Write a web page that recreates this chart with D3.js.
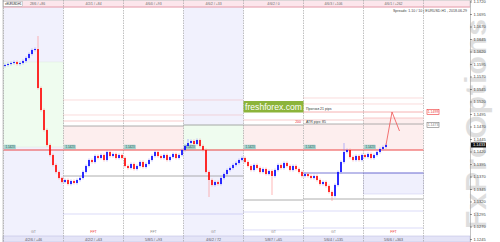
<!DOCTYPE html>
<html lang="en">
<head>
<meta charset="utf-8">
<title>EURUSD,H1</title>
<script src="https://cdn.jsdelivr.net/npm/d3@7"></script>
<style>
html, body { margin: 0; padding: 0; background: #fff; }
svg { display: block; font-family: "Liberation Sans", Arial, sans-serif; }
.axis text { font-size: 4px; fill: #444; }
.axis line { stroke: #333; }
.axis path { stroke: #999; }
</style>
</head>
<body>
<svg width="500" height="242"></svg>
<script>
// hourly closes (first open below)
var firstOpen = 1.1591;
var closes = [
  1.1593, 1.1595, 1.1597, 1.1599, 1.1595, 1.1597, 1.1601, 1.1607, 1.1615, 1.1623,
  1.1625, 1.1547, 1.1503, 1.1463, 1.1433, 1.1413, 1.1393, 1.1379, 1.1367, 1.1359,
  1.1363, 1.1355, 1.1361, 1.1357, 1.1363, 1.1367, 1.1379, 1.1391, 1.1403, 1.1399,
  1.1411, 1.1407, 1.1413, 1.1403, 1.1419, 1.1411, 1.1415, 1.1407, 1.1413, 1.1407,
  1.1391, 1.1387, 1.1395, 1.1385, 1.1391, 1.1399, 1.1389, 1.1395, 1.1403, 1.1411,
  1.1419, 1.1411, 1.1407, 1.1413, 1.1403, 1.1409, 1.1415, 1.1407, 1.1413, 1.1423,
  1.1431, 1.1437, 1.1441, 1.1435, 1.1443, 1.1431, 1.1423, 1.1379, 1.1363, 1.1353,
  1.1359, 1.1355, 1.1367, 1.1375, 1.1383, 1.1387, 1.1393, 1.1397, 1.1403, 1.1407,
  1.1399, 1.1391, 1.1383, 1.1393, 1.1387, 1.1379, 1.1385, 1.1375, 1.1381, 1.1371,
  1.1383, 1.1393, 1.1387, 1.1397, 1.1391, 1.1383, 1.1391, 1.1385, 1.1379, 1.1371,
  1.1375, 1.1371, 1.1367, 1.1371, 1.1363, 1.1355, 1.1359, 1.1351, 1.1339, 1.1331,
  1.1353, 1.1379, 1.1399, 1.1419, 1.1423, 1.1409, 1.1403, 1.1411, 1.1403, 1.1413,
  1.1409, 1.1415, 1.1407, 1.1413, 1.1419, 1.1425, 1.1429, 1.1433
];
// candles whose shadows stick out further than the rest
var wickHigh = {11: 1.1651, 61: 1.1445, 113: 1.1437};
var wickLow = {68: 1.1329, 89: 1.1333, 109: 1.1321};

// forecast path (candle index, price)
var forecastIdx = [127, 129, 131.5];
var forecastPrice = [1.1433, 1.1499, 1.1461];

// day columns
var dayStart = [-0.5, 19.5, 39.5, 59.5, 79.5, 99.5, 119.5, 139.5];
var headerText = ["28/6 / +86", "4/2/1 / +84", "4/6/0 / +93", "4/6/2 / +33", "4/6/2 / 0", "4/6/3 / +106", "4/6/1 / +262"];
var footerText = ["4/2/6 / +46", "4/2/2 / +63", "5/8/5 / +93", "4/6/2 / 72", "5/8/7 / +65", "5/6/4 / +135", "5/6/6 / +363"];
var sessionTag = ["GT", "FFT", "FFT", "GT", "GT", "GT", "FFT"];
var sessionHot = [false, true, false, false, false, false, true];

// levels per day column (null = none)
var pivotLevel = [1.1423, 1.1423, 1.1423, 1.1423, 1.1423, 1.1423, 1.1423];
var upperGray = [null, 1.1471, 1.1471, 1.1473, 1.1473, 1.1475, 1.1475];
var upperDot1 = [null, 1.1523, 1.1523, 1.1523, 1.1517, 1.1527, 1.1527];
var upperDot2 = [null, 1.1493, 1.1493, 1.1493, 1.1503, 1.1515, 1.1515];
var upperDot3 = [null, null, null, null, null, 1.1499, 1.1499];
var upperPink = [null, 1.1481, 1.1481, null, 1.1483, 1.1483, 1.1487];
var lowerGray = [null, 1.1371, 1.1371, 1.1371, 1.1323, 1.1325, 1.1325];
var lowerBlue = [null, null, null, null, null, 1.1377, 1.1377];
var lowerDot1 = [null, 1.1295, 1.1295, 1.1295, 1.1299, 1.1301, 1.1301];
var lowerDot2 = [null, null, null, null, 1.1263, 1.1267, 1.1267];
var greenBox = [[0, 1.1599, 1.1429], [3, 1.1473, 1.1423]];
var lavenderCols = [0, 3];
var lavenderBox = [[6, 1.1377, 1.1335]];

var priceTicks = d3.range(0, 20).map(function(k) { return 1.1720 - k * 0.0025; });
var currentPrice = 1.1433;
var rightTags = [[1.1499, "1.1499", "#e33"], [1.1473, "1.1473", "#777"]];

var svg = d3.select("svg"),
    width = 500, height = 242,
    plotLeft = 3, plotRight = 470, plotTop = 7, plotBottom = 236;

var x = d3.scaleLinear().domain([0, 127]).range([5, 386]);
var y = d3.scaleLinear().domain([1.1723, 1.1239]).range([0, 242]);
var colX = function(c) { return c < dayStart.length ? x(dayStart[c]) : plotRight; };

// backgrounds
lavenderCols.forEach(function(c) {
  svg.append("rect").attr("x", colX(c)).attr("y", plotTop)
      .attr("width", colX(c + 1) - colX(c)).attr("height", plotBottom - plotTop)
      .attr("fill", "#f1f1fd");
});
greenBox.forEach(function(b) {
  svg.append("rect").attr("x", colX(b[0])).attr("y", y(b[1]))
      .attr("width", colX(b[0] + 1) - colX(b[0])).attr("height", y(b[2]) - y(b[1]))
      .attr("fill", "#effcef").attr("stroke", "#dfe9df").attr("stroke-width", 0.5);
});
upperGray.forEach(function(p, c) {
  if (p === null || c === 3) return;
  var top = upperPink[c] !== null && c === 6 ? upperPink[c] : p;
  svg.append("rect").attr("x", colX(c)).attr("y", y(top))
      .attr("width", colX(c + 1) - colX(c)).attr("height", y(pivotLevel[c]) - y(top))
      .attr("fill", "#fdeeee");
});
lavenderBox.forEach(function(b) {
  svg.append("rect").attr("x", colX(b[0])).attr("y", y(b[1]))
      .attr("width", colX(b[0] + 1) - colX(b[0])).attr("height", y(b[2]) - y(b[1]))
      .attr("fill", "#f0f0fd").attr("stroke", "#c9c9f0").attr("stroke-width", 0.5);
});

// watermark
svg.append("text")
    .attr("transform", "translate(486,229) rotate(-90)")
    .attr("font-size", 30).attr("font-weight", "bold")
    .attr("fill", "#dedede")
    .attr("textLength", 210)
    .text("FxProOptions");

// header and footer strips
svg.append("rect").attr("x", plotLeft).attr("y", 0.5).attr("width", plotRight - plotLeft).attr("height", 6.5)
    .attr("fill", "#fce6ec").attr("stroke", "#bbb").attr("stroke-width", 0.5);
svg.append("line").attr("x1", plotLeft).attr("x2", plotRight).attr("y1", 7).attr("y2", 7)
    .attr("stroke", "#f4a6b6").attr("stroke-width", 1);
svg.append("rect").attr("x", plotLeft).attr("y", plotBottom).attr("width", plotRight - plotLeft).attr("height", 6)
    .attr("fill", "#e4e4f7").attr("stroke", "#b9b9e0").attr("stroke-width", 0.5);

// day separators
dayStart.forEach(function(d) {
  svg.append("line").attr("x1", x(d)).attr("x2", x(d)).attr("y1", 0).attr("y2", height)
      .attr("stroke", "#999").attr("stroke-width", 0.6).attr("stroke-dasharray", "1.5,1");
});
svg.append("line").attr("x1", plotLeft).attr("x2", plotLeft).attr("y1", 0).attr("y2", height)
    .attr("stroke", "#aaa").attr("stroke-width", 0.6);

// level lines
function levelRow(arr, color, w, dash) {
  arr.forEach(function(p, c) {
    if (p === null) return;
    svg.append("line").attr("x1", colX(c)).attr("x2", colX(c + 1))
        .attr("y1", y(p)).attr("y2", y(p))
        .attr("stroke", color).attr("stroke-width", w)
        .attr("stroke-dasharray", dash || null);
  });
}
levelRow(upperDot1, "#f08c8c", 0.6, "1,1");
levelRow(upperDot2, "#f08c8c", 0.6, "1,1");
levelRow(upperDot3, "#e83c3c", 0.8, "1,1");
levelRow(upperPink, "#f5b5b5", 0.7);
levelRow(upperGray, "#999", 0.8);
levelRow(lowerDot1, "#8a8ae8", 0.6, "1,1");
levelRow(lowerDot2, "#8a8ae8", 0.6, "1,1");
levelRow(lowerGray, "#999", 0.8);
levelRow(lowerBlue, "#5555cc", 0.8);
levelRow(pivotLevel, "#ee4444", 1.2);

// small price tags above the pivot
pivotLevel.forEach(function(p, c) {
  var gx = colX(c) + 1, gy = y(p) - 5;
  svg.append("rect").attr("x", gx).attr("y", gy).attr("width", 11).attr("height", 4)
      .attr("fill", "#a8d8d0").attr("stroke", "#7bb").attr("stroke-width", 0.3);
  svg.append("text").attr("x", gx + 5.5).attr("y", gy + 3.2).attr("text-anchor", "middle")
      .attr("font-size", 3).attr("fill", "#355").text(p.toFixed(4));
});

// candles
var candles = closes.map(function(c, i) {
  var o = i === 0 ? firstOpen : closes[i - 1];
  var hi = wickHigh[i] !== undefined ? wickHigh[i] : Math.max(o, c) + 0.0003;
  var lo = wickLow[i] !== undefined ? wickLow[i] : Math.min(o, c) - 0.0003;
  return {i: i, o: o, c: c, h: hi, l: lo};
});
var cg = svg.append("g");
cg.selectAll("line").data(candles).enter().append("line")
    .attr("x1", function(d) { return x(d.i); }).attr("x2", function(d) { return x(d.i); })
    .attr("y1", function(d) { return y(d.h); }).attr("y2", function(d) { return y(d.l); })
    .attr("stroke", function(d) { return d.c >= d.o ? "#88f" : "#f88"; })
    .attr("stroke-width", 0.6);
cg.selectAll("rect").data(candles).enter().append("rect")
    .attr("x", function(d) { return x(d.i) - 0.8; })
    .attr("y", function(d) { return y(Math.max(d.o, d.c)); })
    .attr("width", 1.6)
    .attr("height", function(d) { return Math.max(1, Math.abs(y(d.o) - y(d.c))); })
    .attr("fill", function(d) { return d.c >= d.o ? "#0000ff" : "#ff0000"; });

// forecast
svg.append("path")
    .datum(d3.zip(forecastIdx, forecastPrice))
    .attr("d", d3.line().x(function(d) { return x(d[0]); }).y(function(d) { return y(d[1]); }))
    .attr("fill", "none").attr("stroke", "#f05050").attr("stroke-width", 0.8);

// annotations near forecast
svg.append("text").attr("x", 306).attr("y", y(1.1503)).attr("font-size", 3.5).attr("fill", "#333").text("Прогноз 21 pips");
svg.append("text").attr("x", 306).attr("y", y(1.1477)).attr("font-size", 3.5).attr("fill", "#333").text("ATR pips: 85");
svg.append("text").attr("x", 301).attr("y", y(1.1478)).attr("text-anchor", "end").attr("font-size", 3.5).attr("fill", "#e33").text("200");

// right-side tags
rightTags.forEach(function(t) {
  svg.append("rect").attr("x", 427).attr("y", y(t[0]) - 2.5).attr("width", 12).attr("height", 5)
      .attr("fill", "#fff").attr("stroke", t[2]).attr("stroke-width", 0.6);
  svg.append("text").attr("x", 433).attr("y", y(t[0]) + 1.3).attr("text-anchor", "middle")
      .attr("font-size", 3.5).attr("fill", t[2]).text(t[1]);
});

// header, footer and session texts
headerText.forEach(function(t, c) {
  svg.append("text").attr("x", (colX(c) + colX(c + 1)) / 2 + (c === 0 ? 4 : 0)).attr("y", 5.3).attr("text-anchor", "middle")
      .attr("font-size", 3.4).attr("fill", "#666").text(t);
});
footerText.forEach(function(t, c) {
  svg.append("text").attr("x", (colX(c) + colX(c + 1)) / 2).attr("y", 240.6).attr("text-anchor", "middle")
      .attr("font-size", 3.6).attr("fill", "#555").text(t);
});
sessionTag.forEach(function(t, c) {
  svg.append("text").attr("x", (colX(c) + colX(c + 1)) / 2).attr("y", 233).attr("text-anchor", "middle")
      .attr("font-size", 3.6).attr("fill", sessionHot[c] ? "#e44" : "#888").text(t);
});

// symbol box and info line
svg.append("rect").attr("x", 3.5).attr("y", 1.3).attr("width", 19).attr("height", 5)
    .attr("fill", "#fff").attr("stroke", "#999").attr("stroke-width", 0.4);
svg.append("text").attr("x", 4.5).attr("y", 5).attr("font-size", 3.2).attr("fill", "#333")
    .attr("textLength", 17).text("▾ EURUSD,H1");
svg.append("text").attr("x", 467).attr("y", 12).attr("text-anchor", "end")
    .attr("font-size", 3.6).attr("fill", "#444").text("Spreads: 1.10 / 10 | EURUSD.H1 , 2018.06.29");

// brand box
svg.append("rect").attr("x", x(79.5)).attr("y", 101).attr("width", x(99.5) - x(79.5)).attr("height", 11.5)
    .attr("fill", "#8cb43a");
svg.append("text").attr("x", (x(79.5) + x(99.5)) / 2).attr("y", 109.6).attr("text-anchor", "middle")
    .attr("font-size", 8.6).attr("fill", "#fff").text("freshforex.com");

// price axis
svg.append("g").attr("class", "axis")
    .attr("transform", "translate(" + plotRight + ",0)")
    .call(d3.axisRight(y).tickValues(priceTicks).tickSize(2).tickPadding(1.5).tickFormat(d3.format(".4f")))
    .call(function(g) { g.select(".domain").attr("stroke", "#999").attr("stroke-width", 0.6); })
    .call(function(g) { g.selectAll("line").attr("stroke-width", 0.5); });

svg.append("rect").attr("x", plotRight + 1).attr("y", y(currentPrice) - 2.5).attr("width", 15).attr("height", 5)
    .attr("fill", "#111");
svg.append("text").attr("x", plotRight + 3).attr("y", y(currentPrice) + 1.4)
    .attr("font-size", 4).attr("fill", "#fff").text(currentPrice.toFixed(4));
</script>
</body>
</html>
